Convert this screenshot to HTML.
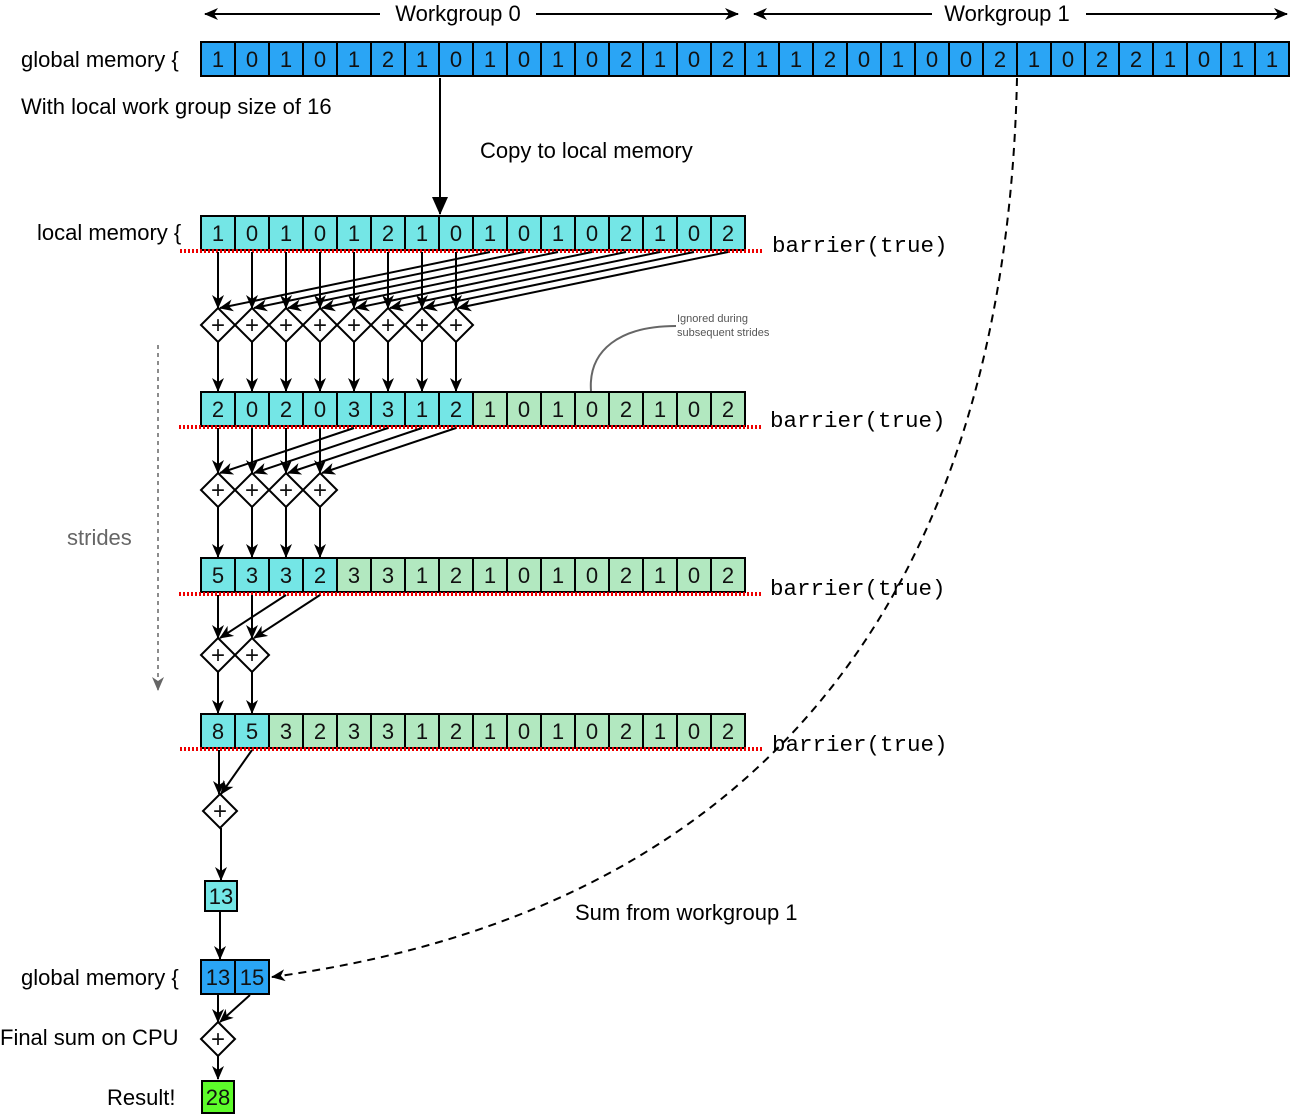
<!DOCTYPE html>
<html><head><meta charset="utf-8"><style>
html,body{margin:0;padding:0;background:#fff;}
svg{display:block;font-family:"Liberation Sans",sans-serif;}
.c{stroke:#000;stroke-width:2;}
.b{fill:#2aa5f5}.y{fill:#74e6e6}.g{fill:#b2e8c0}
.t{font-size:22px;text-anchor:middle;fill:#111}
.p{font-size:24px;text-anchor:middle;fill:#111}
.l{font-size:22px;fill:#000}
.m{font-family:"Liberation Mono",monospace;font-size:22.5px;fill:#000}
.a{stroke:#000;stroke-width:2;fill:none;marker-end:url(#ah)}
.d{fill:#fff;stroke:#000;stroke-width:2}
.red{stroke:#e00;stroke-width:4;stroke-dasharray:2 2}
</style></head><body>
<svg width="1291" height="1116" viewBox="0 0 1291 1116" xmlns="http://www.w3.org/2000/svg">
<defs>
<marker id="ah" markerUnits="userSpaceOnUse" markerWidth="14" markerHeight="12" refX="13" refY="6" orient="auto"><path d="M0,0 L14,6 L0,12 L4,6 z" fill="#000"/></marker>
<marker id="ah2" markerUnits="userSpaceOnUse" markerWidth="18" markerHeight="16" refX="17" refY="8" orient="auto"><path d="M0,0 L18,8 L0,16 z" fill="#000"/></marker>
<marker id="ahg" markerUnits="userSpaceOnUse" markerWidth="14" markerHeight="12" refX="13" refY="6" orient="auto"><path d="M0,0 L14,6 L0,12 L4,6 z" fill="#666"/></marker>
</defs>

<line x1="380" y1="14" x2="205" y2="14" class="a"/>
<line x1="536" y1="14" x2="738" y2="14" class="a"/>
<text x="458" y="21" class="l" text-anchor="middle">Workgroup 0</text>
<line x1="932" y1="14" x2="754" y2="14" class="a"/>
<line x1="1086" y1="14" x2="1287" y2="14" class="a"/>
<text x="1007" y="21" class="l" text-anchor="middle">Workgroup 1</text>

<text x="21" y="67" class="l">global memory {</text>
<text x="21" y="114" class="l">With local work group size of 16</text>
<text x="480" y="158" class="l">Copy to local memory</text>
<text x="37" y="240" class="l">local memory {</text>
<text x="67" y="545" class="l" style="fill:#666">strides</text>
<text x="21" y="985" class="l">global memory {</text>
<text x="0" y="1045" class="l">Final sum on CPU</text>
<text x="107" y="1105" class="l">Result!</text>
<text x="575" y="920" class="l">Sum from workgroup 1</text>

<g>
<rect x="201" y="42" width="1088" height="34" class="b c"/>
<path d="M235,42v34M269,42v34M303,42v34M337,42v34M371,42v34M405,42v34M439,42v34M473,42v34M507,42v34M541,42v34M575,42v34M609,42v34M643,42v34M677,42v34M711,42v34M745,42v34M779,42v34M813,42v34M847,42v34M881,42v34M915,42v34M949,42v34M983,42v34M1017,42v34M1051,42v34M1085,42v34M1119,42v34M1153,42v34M1187,42v34M1221,42v34M1255,42v34" class="c"/>
<text class="t" y="67"><tspan x="218">1</tspan><tspan x="252">0</tspan><tspan x="286">1</tspan><tspan x="320">0</tspan><tspan x="354">1</tspan><tspan x="388">2</tspan><tspan x="422">1</tspan><tspan x="456">0</tspan><tspan x="490">1</tspan><tspan x="524">0</tspan><tspan x="558">1</tspan><tspan x="592">0</tspan><tspan x="626">2</tspan><tspan x="660">1</tspan><tspan x="694">0</tspan><tspan x="728">2</tspan><tspan x="762">1</tspan><tspan x="796">1</tspan><tspan x="830">2</tspan><tspan x="864">0</tspan><tspan x="898">1</tspan><tspan x="932">0</tspan><tspan x="966">0</tspan><tspan x="1000">2</tspan><tspan x="1034">1</tspan><tspan x="1068">0</tspan><tspan x="1102">2</tspan><tspan x="1136">2</tspan><tspan x="1170">1</tspan><tspan x="1204">0</tspan><tspan x="1238">1</tspan><tspan x="1272">1</tspan></text>
</g>

<line x1="440" y1="78" x2="440" y2="214" stroke="#000" stroke-width="2" marker-end="url(#ah2)"/>

<rect x="201" y="216" width="544" height="34" class="y c"/>
<path d="M235,216v34M269,216v34M303,216v34M337,216v34M371,216v34M405,216v34M439,216v34M473,216v34M507,216v34M541,216v34M575,216v34M609,216v34M643,216v34M677,216v34M711,216v34" class="c"/>
<text class="t" y="241"><tspan x="218">1</tspan><tspan x="252">0</tspan><tspan x="286">1</tspan><tspan x="320">0</tspan><tspan x="354">1</tspan><tspan x="388">2</tspan><tspan x="422">1</tspan><tspan x="456">0</tspan><tspan x="490">1</tspan><tspan x="524">0</tspan><tspan x="558">1</tspan><tspan x="592">0</tspan><tspan x="626">2</tspan><tspan x="660">1</tspan><tspan x="694">0</tspan><tspan x="728">2</tspan></text>
<line x1="180" y1="251" x2="763" y2="251" class="red"/>
<text x="772" y="252" class="m">barrier(true)</text>

<g>
<line x1="218" y1="252" x2="218" y2="308" class="a"/><line x1="252" y1="252" x2="252" y2="308" class="a"/><line x1="286" y1="252" x2="286" y2="308" class="a"/><line x1="320" y1="252" x2="320" y2="308" class="a"/><line x1="354" y1="252" x2="354" y2="308" class="a"/><line x1="388" y1="252" x2="388" y2="308" class="a"/><line x1="422" y1="252" x2="422" y2="308" class="a"/><line x1="456" y1="252" x2="456" y2="308" class="a"/>
<line x1="490" y1="252" x2="220" y2="308" class="a"/><line x1="524" y1="252" x2="254" y2="308" class="a"/><line x1="558" y1="252" x2="288" y2="308" class="a"/><line x1="592" y1="252" x2="322" y2="308" class="a"/><line x1="626" y1="252" x2="356" y2="308" class="a"/><line x1="660" y1="252" x2="390" y2="308" class="a"/><line x1="694" y1="252" x2="424" y2="308" class="a"/><line x1="728" y1="252" x2="458" y2="308" class="a"/>
</g>
<g class="d">
<path d="M218,308l17,17l-17,17l-17,-17z"/><path d="M252,308l17,17l-17,17l-17,-17z"/><path d="M286,308l17,17l-17,17l-17,-17z"/><path d="M320,308l17,17l-17,17l-17,-17z"/><path d="M354,308l17,17l-17,17l-17,-17z"/><path d="M388,308l17,17l-17,17l-17,-17z"/><path d="M422,308l17,17l-17,17l-17,-17z"/><path d="M456,308l17,17l-17,17l-17,-17z"/>
</g>
<text class="p" y="333"><tspan x="218">+</tspan><tspan x="252">+</tspan><tspan x="286">+</tspan><tspan x="320">+</tspan><tspan x="354">+</tspan><tspan x="388">+</tspan><tspan x="422">+</tspan><tspan x="456">+</tspan></text>
<g>
<line x1="218" y1="342" x2="218" y2="391" class="a"/><line x1="252" y1="342" x2="252" y2="391" class="a"/><line x1="286" y1="342" x2="286" y2="391" class="a"/><line x1="320" y1="342" x2="320" y2="391" class="a"/><line x1="354" y1="342" x2="354" y2="391" class="a"/><line x1="388" y1="342" x2="388" y2="391" class="a"/><line x1="422" y1="342" x2="422" y2="391" class="a"/><line x1="456" y1="342" x2="456" y2="391" class="a"/>
</g>

<path d="M591,391 C588,350 620,326 676,326" stroke="#666" stroke-width="2" fill="none"/>
<text x="677" y="322" font-size="11" fill="#555">Ignored during</text>
<text x="677" y="336" font-size="11" fill="#555">subsequent strides</text>

<rect x="201" y="392" width="272" height="34" class="y c"/>
<rect x="473" y="392" width="272" height="34" class="g c"/>
<path d="M235,392v34M269,392v34M303,392v34M337,392v34M371,392v34M405,392v34M439,392v34M507,392v34M541,392v34M575,392v34M609,392v34M643,392v34M677,392v34M711,392v34" class="c"/>
<text class="t" y="417"><tspan x="218">2</tspan><tspan x="252">0</tspan><tspan x="286">2</tspan><tspan x="320">0</tspan><tspan x="354">3</tspan><tspan x="388">3</tspan><tspan x="422">1</tspan><tspan x="456">2</tspan><tspan x="490">1</tspan><tspan x="524">0</tspan><tspan x="558">1</tspan><tspan x="592">0</tspan><tspan x="626">2</tspan><tspan x="660">1</tspan><tspan x="694">0</tspan><tspan x="728">2</tspan></text>
<line x1="179" y1="427" x2="762" y2="427" class="red"/>
<text x="770" y="427" class="m">barrier(true)</text>

<line x1="218" y1="428" x2="218" y2="473" class="a"/><line x1="252" y1="428" x2="252" y2="473" class="a"/><line x1="286" y1="428" x2="286" y2="473" class="a"/><line x1="320" y1="428" x2="320" y2="473" class="a"/>
<line x1="354" y1="428" x2="220" y2="473" class="a"/><line x1="388" y1="428" x2="254" y2="473" class="a"/><line x1="422" y1="428" x2="288" y2="473" class="a"/><line x1="456" y1="428" x2="322" y2="473" class="a"/>
<g class="d"><path d="M218,473l17,17l-17,17l-17,-17z"/><path d="M252,473l17,17l-17,17l-17,-17z"/><path d="M286,473l17,17l-17,17l-17,-17z"/><path d="M320,473l17,17l-17,17l-17,-17z"/></g>
<text class="p" y="498"><tspan x="218">+</tspan><tspan x="252">+</tspan><tspan x="286">+</tspan><tspan x="320">+</tspan></text>
<line x1="218" y1="507" x2="218" y2="557" class="a"/><line x1="252" y1="507" x2="252" y2="557" class="a"/><line x1="286" y1="507" x2="286" y2="557" class="a"/><line x1="320" y1="507" x2="320" y2="557" class="a"/>

<line x1="158" y1="345" x2="158" y2="690" stroke="#666" stroke-width="1.5" stroke-dasharray="4 4" marker-end="url(#ahg)"/>

<rect x="201" y="558" width="136" height="34" class="y c"/>
<rect x="337" y="558" width="408" height="34" class="g c"/>
<path d="M235,558v34M269,558v34M303,558v34M371,558v34M405,558v34M439,558v34M473,558v34M507,558v34M541,558v34M575,558v34M609,558v34M643,558v34M677,558v34M711,558v34" class="c"/>
<text class="t" y="583"><tspan x="218">5</tspan><tspan x="252">3</tspan><tspan x="286">3</tspan><tspan x="320">2</tspan><tspan x="354">3</tspan><tspan x="388">3</tspan><tspan x="422">1</tspan><tspan x="456">2</tspan><tspan x="490">1</tspan><tspan x="524">0</tspan><tspan x="558">1</tspan><tspan x="592">0</tspan><tspan x="626">2</tspan><tspan x="660">1</tspan><tspan x="694">0</tspan><tspan x="728">2</tspan></text>
<line x1="179" y1="594" x2="762" y2="594" class="red"/>
<text x="770" y="595" class="m">barrier(true)</text>

<line x1="218" y1="595" x2="218" y2="638" class="a"/><line x1="252" y1="595" x2="252" y2="638" class="a"/>
<line x1="286" y1="595" x2="220" y2="638" class="a"/><line x1="320" y1="595" x2="254" y2="638" class="a"/>
<g class="d"><path d="M218,638l17,17l-17,17l-17,-17z"/><path d="M252,638l17,17l-17,17l-17,-17z"/></g>
<text class="p" y="663"><tspan x="218">+</tspan><tspan x="252">+</tspan></text>
<line x1="218" y1="672" x2="218" y2="713" class="a"/><line x1="252" y1="672" x2="252" y2="713" class="a"/>

<rect x="201" y="714" width="68" height="34" class="y c"/>
<rect x="269" y="714" width="476" height="34" class="g c"/>
<path d="M235,714v34M303,714v34M337,714v34M371,714v34M405,714v34M439,714v34M473,714v34M507,714v34M541,714v34M575,714v34M609,714v34M643,714v34M677,714v34M711,714v34" class="c"/>
<text class="t" y="739"><tspan x="218">8</tspan><tspan x="252">5</tspan><tspan x="286">3</tspan><tspan x="320">2</tspan><tspan x="354">3</tspan><tspan x="388">3</tspan><tspan x="422">1</tspan><tspan x="456">2</tspan><tspan x="490">1</tspan><tspan x="524">0</tspan><tspan x="558">1</tspan><tspan x="592">0</tspan><tspan x="626">2</tspan><tspan x="660">1</tspan><tspan x="694">0</tspan><tspan x="728">2</tspan></text>
<line x1="180" y1="749" x2="763" y2="749" class="red"/>
<text x="772" y="751" class="m">barrier(true)</text>

<line x1="219" y1="750" x2="219" y2="794" class="a"/>
<line x1="252" y1="750" x2="221" y2="794" class="a"/>
<path d="M220,794l17,17l-17,17l-17,-17z" class="d"/>
<text class="p" x="220" y="819">+</text>
<line x1="221" y1="828" x2="221" y2="880" class="a"/>
<rect x="205" y="881" width="32" height="30" class="y c"/>
<text class="t" x="221" y="904">13</text>
<line x1="220" y1="912" x2="220" y2="959" class="a"/>

<rect x="201" y="960" width="68" height="34" class="b c"/>
<path d="M235,960v34" class="c"/>
<text class="t" y="985"><tspan x="218">13</tspan><tspan x="252">15</tspan></text>
<line x1="218" y1="995" x2="218" y2="1022" class="a"/>
<line x1="250" y1="995" x2="220" y2="1022" class="a"/>
<path d="M218,1022l17,17l-17,17l-17,-17z" class="d"/>
<text class="p" x="218" y="1047">+</text>
<line x1="218" y1="1056" x2="218" y2="1079" class="a"/>
<rect x="202" y="1081" width="32" height="32" fill="#5dfc2a" class="c"/>
<text class="t" x="218" y="1105">28</text>

<path d="M1017,78 C1008,500 840,900 272,977" stroke="#000" stroke-width="2" fill="none" stroke-dasharray="8 6" marker-end="url(#ah)"/>
</svg>
</body></html>
